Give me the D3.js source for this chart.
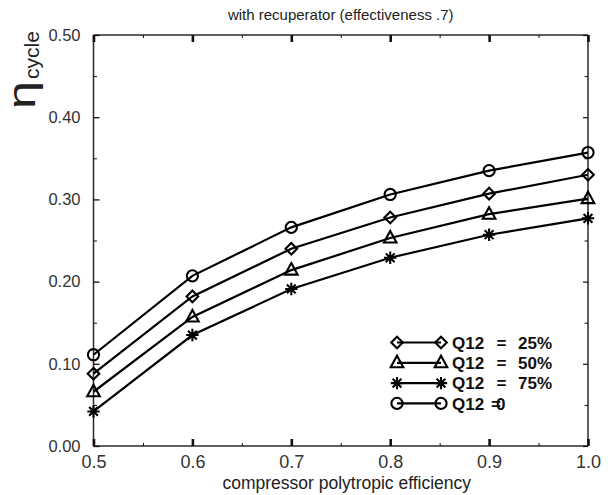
<!DOCTYPE html>
<html>
<head>
<meta charset="utf-8">
<script src="https://cdn.jsdelivr.net/npm/d3@7"></script>
<style>
  html, body { margin: 0; padding: 0; background: #fff; }
  svg { display: block; font-family: "Liberation Sans", Arial, sans-serif; }
</style>
</head>
<body>
<svg id="chart" width="608" height="495"></svg>
<script>
// Compressor polytropic efficiency (x) and cycle efficiency for each Q12 level
const efficiency = [0.5, 0.6, 0.7, 0.8, 0.9, 1.0];
const etaQ0  = [0.111, 0.207, 0.266, 0.306, 0.335, 0.357];
const etaQ25 = [0.088, 0.182, 0.240, 0.278, 0.307, 0.330];
const etaQ50 = [0.066, 0.157, 0.214, 0.253, 0.282, 0.301];
const etaQ75 = [0.042, 0.135, 0.191, 0.229, 0.257, 0.277];

const xTicks = [0.5, 0.6, 0.7, 0.8, 0.9, 1.0];
const xMinorTicks = [0.55, 0.65, 0.75, 0.85, 0.95];
const yTicks = [0.0, 0.1, 0.2, 0.3, 0.4, 0.5];
const yMinorTicks = [0.05, 0.15, 0.25, 0.35, 0.45];

const titleText = "with recuperator (effectiveness .7)";
const xLabel = "compressor polytropic efficiency";

const series = [
  { name: "Q12 = 25%", symbol: "diamond",  values: etaQ25, pct: "25%" },
  { name: "Q12 = 50%", symbol: "triangle", values: etaQ50, pct: "50%" },
  { name: "Q12 = 75%", symbol: "star",     values: etaQ75, pct: "75%" },
  { name: "Q12 = 0",   symbol: "circle",   values: etaQ0,  pct: null }
];

const svg = d3.select("#chart");
const plotLeft = 93.5, plotRight = 588, plotTop = 35, plotBottom = 446;

const x = d3.scaleLinear().domain([0.5, 1.0]).range([plotLeft, plotRight]);
const y = d3.scaleLinear().domain([0, 0.5]).range([plotBottom, plotTop]);

// Marker shapes drawn as paths centred on (0,0)
function markerPath(sym) {
  switch (sym) {
    case "circle": {
      const p = d3.path(); p.arc(0, 0, 5.6, 0, 2 * Math.PI); return p.toString();
    }
    case "diamond": return "M0,-5.8L5.8,0L0,5.8L-5.8,0Z";
    case "triangle": return "M0,-7L6.3,4.5L-6.3,4.5Z";
    case "star": {
      const r = 6.2, d = r * Math.SQRT1_2;
      return `M${-r},0L${r},0M0,${-r}L0,${r}M${-d},${-d}L${d},${d}M${-d},${d}L${d},${-d}`;
    }
  }
}

// Frame
const frame = svg.append("g").attr("stroke", "#2a2a2a").attr("stroke-width", 1.5).attr("fill", "none");
frame.append("line").attr("x1", plotLeft).attr("x2", plotRight).attr("y1", plotTop).attr("y2", plotTop);
frame.append("line").attr("x1", plotLeft).attr("x2", plotRight).attr("y1", plotBottom).attr("y2", plotBottom);
frame.append("line").attr("x1", plotLeft).attr("x2", plotLeft).attr("y1", plotTop).attr("y2", plotBottom);
frame.append("line").attr("x1", plotRight).attr("x2", plotRight).attr("y1", plotTop).attr("y2", plotBottom);

// Axes via d3 axis generators, ticks pointing inward
function styleAxis(g, width) {
  g.select(".domain").remove();
  g.selectAll(".tick line").attr("stroke", "#111").attr("stroke-width", width);
}
// bottom x axis (major, labelled)
svg.append("g").attr("transform", `translate(0,${plotBottom})`)
  .call(d3.axisBottom(x).tickValues(xTicks).tickSizeInner(-7).tickSizeOuter(0).tickPadding(9).tickFormat(d3.format(".1f")))
  .call(g => { styleAxis(g, 2.6); g.selectAll("text").attr("font-size", 18).attr("fill", "#333").attr("font-family", "Liberation Sans, Arial, sans-serif"); });
svg.append("g").attr("transform", `translate(0,${plotBottom})`)
  .call(d3.axisBottom(x).tickValues(xMinorTicks).tickSizeInner(-3).tickSizeOuter(0).tickFormat(""))
  .call(g => styleAxis(g, 1));
// top x axis
svg.append("g").attr("transform", `translate(0,${plotTop})`)
  .call(d3.axisTop(x).tickValues(xTicks).tickSizeInner(-7).tickSizeOuter(0).tickFormat(""))
  .call(g => styleAxis(g, 2.6));
svg.append("g").attr("transform", `translate(0,${plotTop})`)
  .call(d3.axisTop(x).tickValues(xMinorTicks).tickSizeInner(-3).tickSizeOuter(0).tickFormat(""))
  .call(g => styleAxis(g, 1));
// left y axis
svg.append("g").attr("transform", `translate(${plotLeft},0)`)
  .call(d3.axisLeft(y).tickValues(yTicks).tickSizeInner(-6).tickSizeOuter(0).tickPadding(13).tickFormat(d3.format(".2f")))
  .call(g => { styleAxis(g, 1.3); g.selectAll("text").attr("font-size", 16.5).attr("fill", "#333").attr("font-family", "Liberation Sans, Arial, sans-serif"); });
svg.append("g").attr("transform", `translate(${plotLeft},0)`)
  .call(d3.axisLeft(y).tickValues(yMinorTicks).tickSizeInner(-3.5).tickSizeOuter(0).tickFormat(""))
  .call(g => styleAxis(g, 1));
// right y axis
svg.append("g").attr("transform", `translate(${plotRight},0)`)
  .call(d3.axisRight(y).tickValues(yTicks).tickSizeInner(-5).tickSizeOuter(0).tickFormat(""))
  .call(g => styleAxis(g, 1.2));
svg.append("g").attr("transform", `translate(${plotRight},0)`)
  .call(d3.axisRight(y).tickValues(yMinorTicks).tickSizeInner(-3.5).tickSizeOuter(0).tickFormat(""))
  .call(g => styleAxis(g, 1));

// Title
svg.append("text").attr("x", (plotLeft + plotRight) / 2).attr("y", 20)
  .attr("text-anchor", "middle").attr("font-size", 15).attr("fill", "#222").text(titleText);

// x axis label
svg.append("text").attr("x", (plotLeft + plotRight) / 2 + 6).attr("y", 489)
  .attr("text-anchor", "middle").attr("font-size", 17.5).attr("fill", "#222").text(xLabel);

// y axis label: eta with subscript "cycle"
const yl = svg.append("text").attr("transform", "translate(35,109) rotate(-90)")
  .attr("fill", "#222");
yl.append("tspan").attr("font-size", 38).attr("textLength", 28).attr("lengthAdjust", "spacingAndGlyphs").text("η");
yl.append("tspan").attr("font-size", 21).attr("dx", 2).attr("dy", 4).text("cycle");

// Series lines and markers
const line = d3.line().x((d, i) => x(efficiency[i])).y(d => y(d));
const plot = svg.append("g");
series.forEach(s => {
  plot.append("path").attr("d", line(s.values))
    .attr("fill", "none").attr("stroke", "#000").attr("stroke-width", 2.2);
  plot.selectAll(null).data(s.values).join("path")
    .attr("transform", (d, i) => `translate(${x(efficiency[i])},${y(d)})`)
    .attr("d", markerPath(s.symbol))
    .attr("fill", "none").attr("stroke", "#000").attr("stroke-width", 2.1);
});

// Legend
const legend = svg.append("g");
series.forEach((s, i) => {
  const cy = 342.5 + i * 20.3;
  const g = legend.append("g").attr("transform", `translate(0,${cy})`);
  g.append("line").attr("x1", 397).attr("x2", 441).attr("y1", 0).attr("y2", 0)
    .attr("stroke", "#000").attr("stroke-width", 2.2);
  [397, 441].forEach(mx => g.append("path").attr("transform", `translate(${mx},0)`)
    .attr("d", markerPath(s.symbol)).attr("fill", "none").attr("stroke", "#000").attr("stroke-width", 2.1));
  const t = g.append("g").attr("font-size", 17).attr("font-weight", "bold").attr("fill", "#111");
  t.append("text").attr("x", 452).attr("y", 6.2).text("Q12");
  if (s.pct) {
    t.append("text").attr("x", 496.5).attr("y", 6.2).text("=");
    t.append("text").attr("x", 518).attr("y", 6.2).text(s.pct);
  } else {
    // "=" and "0" struck over each other
    t.append("text").attr("x", 491).attr("y", 6.2).attr("letter-spacing", -5).text("=0");
  }
});
</script>
</body>
</html>
